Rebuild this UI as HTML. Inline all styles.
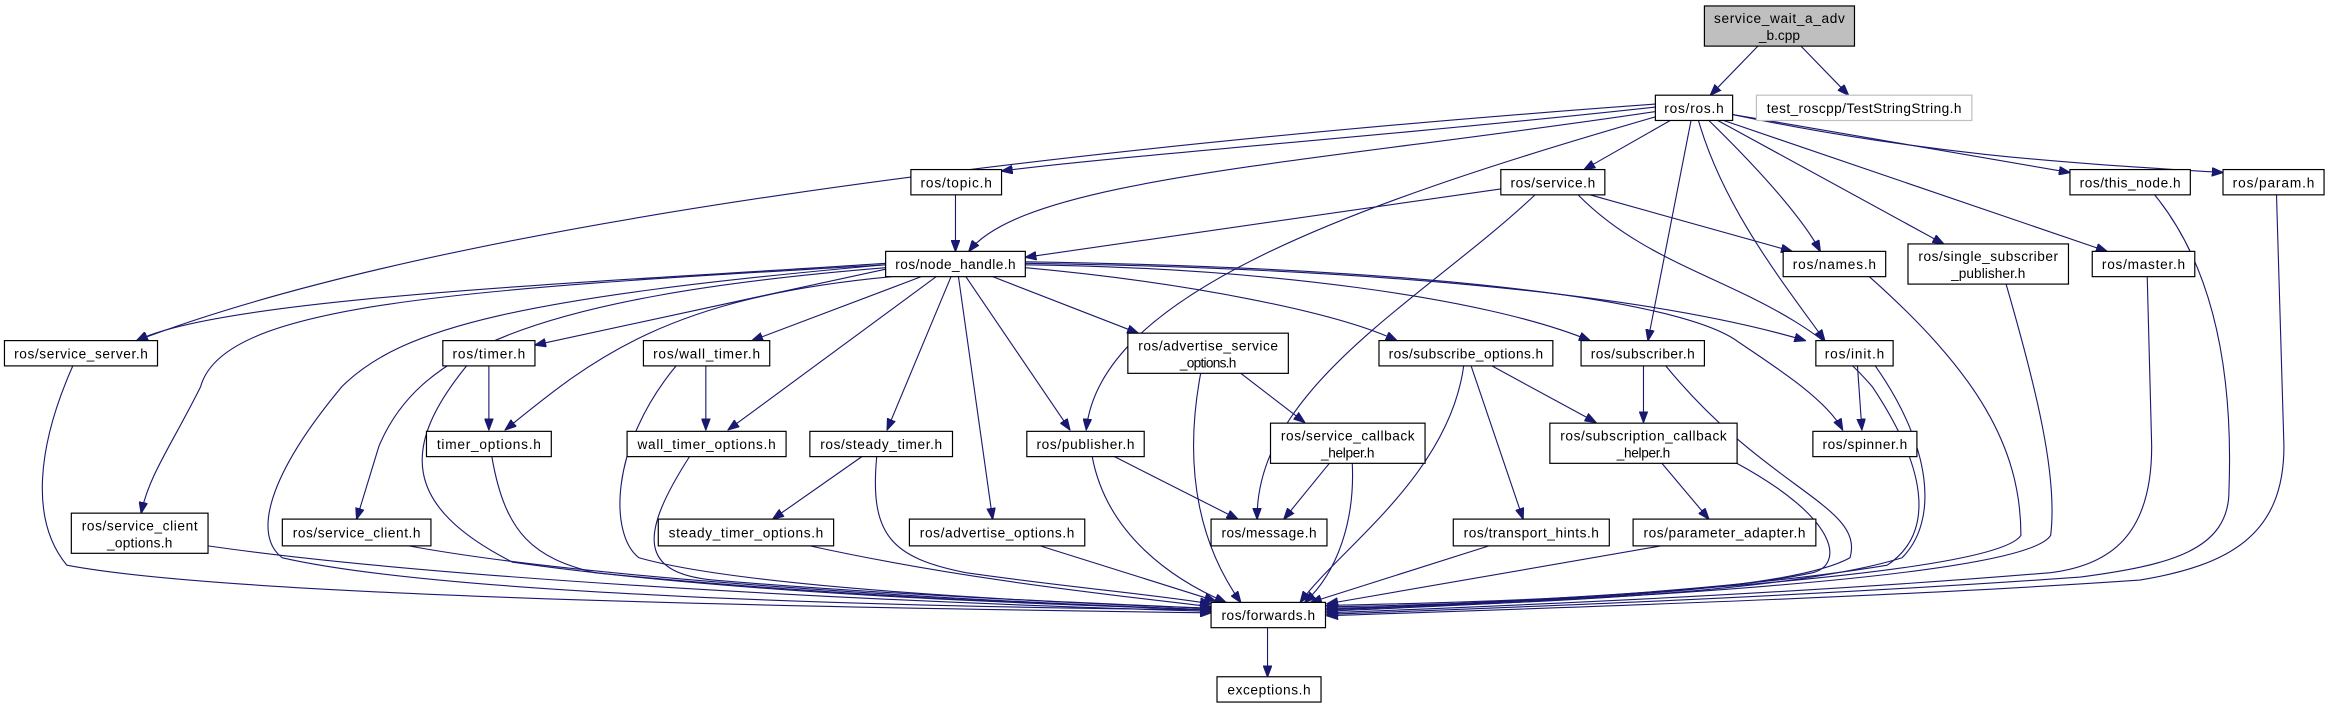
<!DOCTYPE html>
<html><head><meta charset="utf-8"><style>
html,body{margin:0;padding:0;background:#fff;}
svg{display:block}
text{font-family:"Liberation Sans",sans-serif;font-size:9.2px;fill:#000;text-anchor:middle;}
.e{fill:none;stroke:#191970;stroke-width:0.75;}
.n{fill:#fff;stroke:#000;stroke-width:0.8;}
</style></head><body>
<svg width="2330" height="708" viewBox="0 0 1568 476" preserveAspectRatio="none" xmlns="http://www.w3.org/2000/svg">
<defs><marker id="a" markerWidth="8" markerHeight="6" refX="7.5" refY="3" orient="auto" markerUnits="userSpaceOnUse"><path d="M0,0 L8,3 L0,6 z" fill="#191970" stroke="#191970" stroke-width="0.5"/></marker></defs>
<g marker-end="url(#a)">
<path class="e" d="M1183,31 L1151,64"/>
<path class="e" d="M1212,31 L1244,64"/>
<path class="e" d="M1114,72 C950,90 750,105 674,115"/>
<path class="e" d="M1114,75 C880,110 690,120 652,169"/>
<path class="e" d="M1114,70 C700,100 300,150 92,229"/>
<path class="e" d="M1116,78 C900,140 740,200 731,289"/>
<path class="e" d="M1124,81 L1066,114"/>
<path class="e" d="M1138,81 L1109,229"/>
<path class="e" d="M1143,81 C1160,140 1200,190 1228,229"/>
<path class="e" d="M1150,81 C1190,120 1215,150 1225,169"/>
<path class="e" d="M1156,81 L1308,164"/>
<path class="e" d="M1160,81 L1418,169"/>
<path class="e" d="M1166,77 L1393,116"/>
<path class="e" d="M1166,77 C1300,105 1400,110 1496,116"/>
<path class="e" d="M643,131 L643,169"/>
<path class="e" d="M1010,127 L690,173"/>
<path class="e" d="M1070,131 L1206,169"/>
<path class="e" d="M1033,131 C960,200 845,260 846,349"/>
<path class="e" d="M1062,131 C1120,190 1200,190 1260,260 C1300,320 1300,360 1270,380 C1150,400 950,408 893,410"/>
<path class="e" d="M1258,186 C1330,250 1360,300 1360,360 C1340,390 1000,405 893,410"/>
<path class="e" d="M1350,191 C1370,260 1385,320 1380,360 C1360,392 1000,406 893,411"/>
<path class="e" d="M1445,186 L1448,300 C1448,360 1420,380 1380,385 C1200,400 1000,408 893,412"/>
<path class="e" d="M1450,131 C1490,180 1503,250 1500,330 C1500,370 1460,380 1400,388 C1200,402 1000,409 893,413"/>
<path class="e" d="M1532,131 L1537,300 C1537,360 1500,380 1440,390 C1250,403 1000,410 893,414"/>
<path class="e" d="M1262,246 C1300,300 1305,350 1280,375 C1200,400 1000,407 893,409"/>
<path class="e" d="M1121,246 C1190,330 1255,340 1245,375 C1200,400 1000,406 893,408"/>
<path class="e" d="M1168,311 C1240,350 1240,380 1220,385 C1150,400 1000,405 893,407"/>
<path class="e" d="M1118,367 L893,406"/>
<path class="e" d="M1002,367 L882,405"/>
<path class="e" d="M910,311 C912,350 900,385 878,405"/>
<path class="e" d="M895,311 L864,349"/>
<path class="e" d="M985,246 C975,320 900,370 875,405"/>
<path class="e" d="M990,246 L1025,349"/>
<path class="e" d="M1004,246 L1074,284"/>
<path class="e" d="M1106,246 L1106,284"/>
<path class="e" d="M1118,311 L1150,349"/>
<path class="e" d="M1250,246 L1253,289"/>
<path class="e" d="M835,251 L878,284"/>
<path class="e" d="M808,251 C795,320 810,370 835,405"/>
<path class="e" d="M750,307 L833,349"/>
<path class="e" d="M735,307 C745,360 790,390 825,405"/>
<path class="e" d="M580,307 L520,349"/>
<path class="e" d="M590,307 C585,360 600,375 650,385 C720,395 780,400 815,406"/>
<path class="e" d="M700,367 L818,404"/>
<path class="e" d="M545,367 C650,390 750,400 815,408"/>
<path class="e" d="M464,307 C430,360 430,385 480,390 C600,400 720,405 815,409"/>
<path class="e" d="M455,246 C410,300 410,360 430,375 C500,395 700,405 815,409"/>
<path class="e" d="M475,246 L475,289"/>
<path class="e" d="M329,246 L329,289"/>
<path class="e" d="M314,246 C270,300 270,340 345,378 C500,400 700,406 815,410"/>
<path class="e" d="M331,307 C340,360 360,375 400,385 C550,400 700,406 815,410"/>
<path class="e" d="M275,367 C400,390 650,404 815,410"/>
<path class="e" d="M140,367 C300,390 600,405 815,411"/>
<path class="e" d="M49,246 C25,300 20,350 45,380 C150,400 500,408 815,412"/>
<path class="e" d="M596,177 C400,190 150,200 92,229"/>
<path class="e" d="M596,178 C300,195 150,205 135,260 C115,300 100,320 95,345"/>
<path class="e" d="M596,178 C350,200 270,220 230,260 C180,320 170,360 190,375 C300,400 600,408 815,410"/>
<path class="e" d="M596,180 C350,200 280,240 255,300 L240,349"/>
<path class="e" d="M596,181 L360,232"/>
<path class="e" d="M600,186 C450,200 400,240 340,289"/>
<path class="e" d="M620,186 L506,229"/>
<path class="e" d="M630,186 L490,289"/>
<path class="e" d="M640,186 L597,289"/>
<path class="e" d="M645,186 L668,349"/>
<path class="e" d="M650,186 L720,289"/>
<path class="e" d="M668,186 L766,224"/>
<path class="e" d="M690,180 C800,190 900,210 940,229"/>
<path class="e" d="M690,178 C850,180 1000,200 1070,229"/>
<path class="e" d="M690,177 C900,180 1100,195 1215,229"/>
<path class="e" d="M690,176 C950,180 1130,200 1170,230 C1200,250 1230,270 1240,289"/>
<path class="e" d="M853,422 L853,455"/>
</g>
<g>
<rect x="1147" y="4" width="101" height="27" fill="#bfbfbf" stroke="#000" stroke-width="0.8"/>
<text x="1197.5" y="15.5" textLength="88">service_wait_a_adv</text>
<text x="1197.5" y="27">_b.cpp</text>

<rect class="n" x="1114" y="64" width="52" height="17"/><text x="1140" y="76" textLength="40">ros/ros.h</text>
<rect x="1182" y="64" width="145" height="17" fill="#fff" stroke="#bfbfbf" stroke-width="0.8"/><text x="1254.5" y="76" textLength="131">test_roscpp/TestStringString.h</text>

<rect class="n" x="613" y="114" width="61" height="17"/><text x="643.5" y="126" textLength="48">ros/topic.h</text>
<rect class="n" x="1010" y="114" width="70" height="17"/><text x="1045" y="126" textLength="57">ros/service.h</text>
<rect class="n" x="1393" y="114" width="81" height="17"/><text x="1433.5" y="126" textLength="68">ros/this_node.h</text>
<rect class="n" x="1496" y="114" width="68" height="17"/><text x="1530" y="126" textLength="55">ros/param.h</text>

<rect class="n" x="596" y="169" width="94" height="17"/><text x="643" y="181" textLength="81">ros/node_handle.h</text>
<rect class="n" x="1200" y="169" width="69" height="17"/><text x="1234.5" y="181" textLength="56">ros/names.h</text>
<rect class="n" x="1284" y="164" width="108" height="27"/><text x="1338" y="175.5" textLength="94">ros/single_subscriber</text><text x="1338" y="187" textLength="50">_publisher.h</text>
<rect class="n" x="1408" y="169" width="69" height="17"/><text x="1442.5" y="181" textLength="56">ros/master.h</text>

<rect class="n" x="3" y="229" width="103" height="17"/><text x="54.5" y="241" textLength="90">ros/service_server.h</text>
<rect class="n" x="298" y="229" width="62" height="17"/><text x="329" y="241" textLength="49">ros/timer.h</text>
<rect class="n" x="433" y="229" width="85" height="17"/><text x="475.5" y="241" textLength="72">ros/wall_timer.h</text>
<rect class="n" x="759" y="224" width="108" height="27"/><text x="813" y="235.5" textLength="94">ros/advertise_service</text><text x="813" y="247" textLength="38">_options.h</text>
<rect class="n" x="928" y="229" width="117" height="17"/><text x="986.5" y="241" textLength="104">ros/subscribe_options.h</text>
<rect class="n" x="1064" y="229" width="83" height="17"/><text x="1105.5" y="241" textLength="70">ros/subscriber.h</text>
<rect class="n" x="1222" y="229" width="52" height="17"/><text x="1248" y="241" textLength="40">ros/init.h</text>

<rect class="n" x="287" y="290" width="84" height="17"/><text x="329" y="302" textLength="70">timer_options.h</text>
<rect class="n" x="422" y="290" width="107" height="17"/><text x="475.5" y="302" textLength="93">wall_timer_options.h</text>
<rect class="n" x="545" y="290" width="96" height="17"/><text x="593" y="302" textLength="82">ros/steady_timer.h</text>
<rect class="n" x="691" y="290" width="79" height="17"/><text x="730.5" y="302" textLength="66">ros/publisher.h</text>
<rect class="n" x="855" y="284.5" width="104" height="27"/><text x="907" y="296" textLength="90">ros/service_callback</text><text x="907" y="307.5" textLength="36">_helper.h</text>
<rect class="n" x="1043" y="284.5" width="126" height="27"/><text x="1106" y="296" textLength="112">ros/subscription_callback</text><text x="1106" y="307.5" textLength="36">_helper.h</text>
<rect class="n" x="1220" y="290" width="70" height="17"/><text x="1255" y="302" textLength="57">ros/spinner.h</text>

<rect class="n" x="48" y="345" width="92" height="27"/><text x="94" y="356.5" textLength="78">ros/service_client</text><text x="94" y="368" textLength="44">_options.h</text>
<rect class="n" x="190" y="349" width="100" height="18"/><text x="240" y="361.5" textLength="86">ros/service_client.h</text>
<rect class="n" x="443" y="349" width="118" height="18"/><text x="502" y="361.5" textLength="104">steady_timer_options.h</text>
<rect class="n" x="612" y="349" width="118" height="18"/><text x="671" y="361.5" textLength="104">ros/advertise_options.h</text>
<rect class="n" x="815" y="349" width="78" height="18"/><text x="854" y="361.5" textLength="64">ros/message.h</text>
<rect class="n" x="978" y="349" width="105" height="18"/><text x="1030.5" y="361.5" textLength="91">ros/transport_hints.h</text>
<rect class="n" x="1099" y="349" width="123" height="18"/><text x="1160.5" y="361.5" textLength="109">ros/parameter_adapter.h</text>

<rect class="n" x="815" y="405" width="77" height="17"/><text x="853.5" y="417" textLength="63">ros/forwards.h</text>
<rect class="n" x="819" y="455" width="70" height="17"/><text x="854" y="467" textLength="56">exceptions.h</text>
</g>
</svg>
</body></html>
